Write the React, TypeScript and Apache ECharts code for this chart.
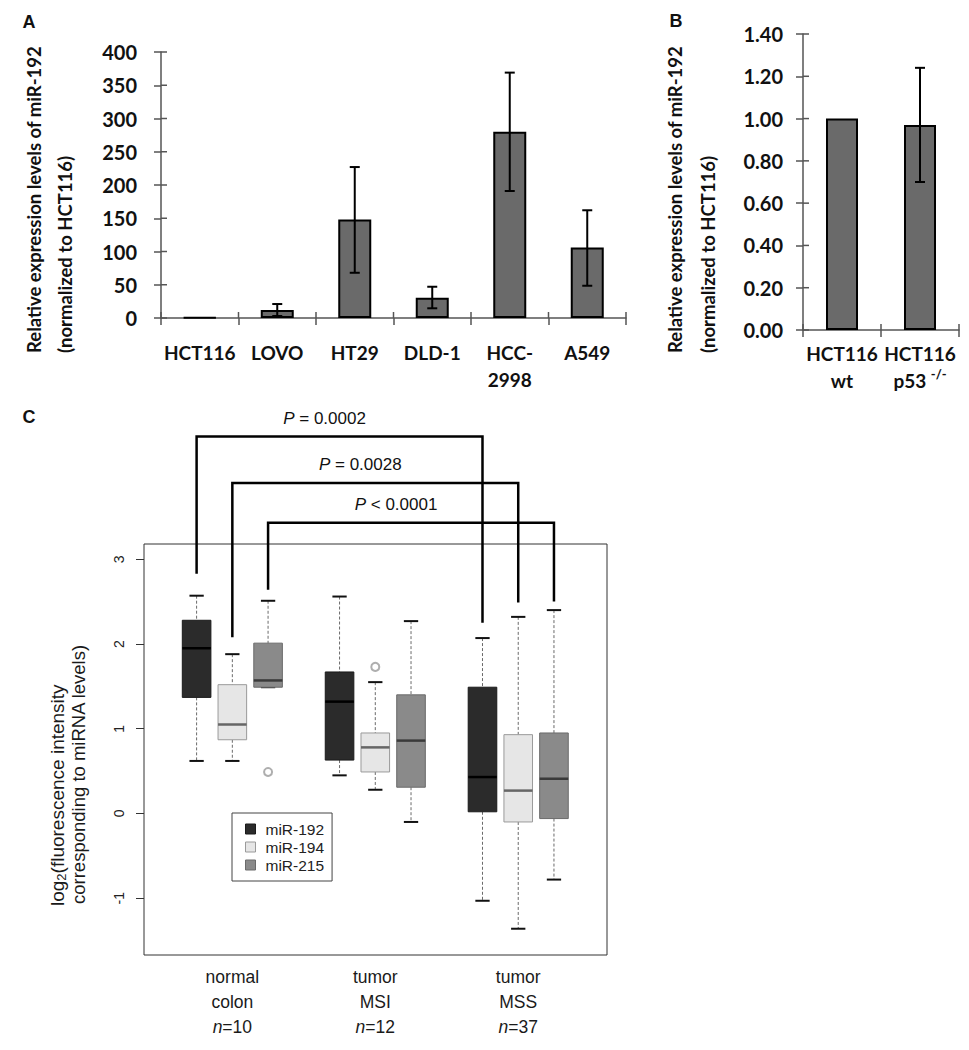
import React, { useEffect, useRef } from 'react';
import * as echarts from 'echarts';

// ---------- Panel A ----------
const cellLines = ['HCT116', 'LOVO', 'HT29', 'DLD-1', 'HCC-\n2998', 'A549'];
const expressionA = [1, 12, 148, 30.5, 280, 106];
const errLowA = [null, 3, 68, 14.6, 191, 48.5];
const errHighA = [null, 21, 227, 47, 369, 162];
const axisA = { min: 0, max: 400, interval: 50 };
const ticksA = [0, 50, 100, 150, 200, 250, 300, 350, 400];

// ---------- Panel B ----------
const linesB = ['HCT116\nwt', 'HCT116\np53 {sup|-/-}'];
const expressionB = [1.0, 0.97];
const errLowB = [null, 0.7];
const errHighB = [null, 1.24];
const axisB = { min: 0, max: 1.4, interval: 0.2 };
const ticksB = [0, 0.2, 0.4, 0.6, 0.8, 1.0, 1.2, 1.4];

// ---------- Panel C ----------
const groupsC = ['normal\ncolon', 'tumor\nMSI', 'tumor\nMSS'];
const groupN = [10, 12, 37];
const mirnas = ['miR-192', 'miR-194', 'miR-215'];
// [lower whisker, Q1, median, Q3, upper whisker] for normal colon, tumor MSI, tumor MSS
const statsMir192 = [
  [0.62, 1.37, 1.95, 2.28, 2.57],
  [0.45, 0.63, 1.32, 1.67, 2.56],
  [-1.03, 0.02, 0.43, 1.49, 2.07],
];
const statsMir194 = [
  [0.62, 0.87, 1.05, 1.52, 1.88],
  [0.28, 0.49, 0.78, 0.95, 1.55],
  [-1.36, -0.1, 0.27, 0.93, 2.32],
];
const statsMir215 = [
  [1.49, 1.49, 1.57, 2.01, 2.51],
  [-0.1, 0.31, 0.86, 1.4, 2.27],
  [-0.78, -0.06, 0.41, 0.95, 2.4],
];
const outliersMir194 = [null, 1.73, null];
const outliersMir215 = [0.49, null, null];
const yTicksC = [-1, 0, 1, 2, 3];
const pLabels = ['{i|P} = 0.0002', '{i|P} = 0.0028', '{i|P} < 0.0001'];
const bracketTop = [4.45, 3.9, 3.43];
const bracketLegLeft = [2.83, 2.08, 2.64];
const bracketLegRight = [2.25, 2.49, 2.5];

const offsets = [-0.25, 0, 0.25];
const fills = ['#2b2b2b', '#e6e6e6', '#8a8a8a'];
const strokes = ['#1a1a1a', '#9a9a9a', '#6a6a6a'];
const medians = ['#000000', '#666666', '#3a3a3a'];

const SANS = 'Liberation Sans, Arial, sans-serif';
const LATO = 'Lato, Open Sans, sans-serif';
const AXIS_COLOR = '#555';

function errorRender(params: any, api: any) {
  const i = api.value(0);
  const pHi = api.coord([i, api.value(2)]);
  const pLo = api.coord([i, api.value(1)]);
  const w = 5;
  const st = { stroke: '#000', lineWidth: 2 };
  return {
    type: 'group',
    children: [
      { type: 'line', shape: { x1: pHi[0], y1: pHi[1], x2: pLo[0], y2: pLo[1] }, style: st },
      { type: 'line', shape: { x1: pHi[0] - w, y1: pHi[1], x2: pHi[0] + w, y2: pHi[1] }, style: st },
      { type: 'line', shape: { x1: pLo[0] - w, y1: pLo[1], x2: pLo[0] + w, y2: pLo[1] }, style: st },
    ],
  };
}

// inner half of the crossing ticks (Excel-style "cross" tick marks)
function innerTicks(yTicks: number[], nCats: number) {
  return (params: any, api: any) => {
    const cs = params.coordSys;
    const st = { stroke: AXIS_COLOR, lineWidth: 1.5 };
    const children: any[] = [];
    yTicks.forEach((v) => {
      const y = api.coord([0, v])[1];
      children.push({ type: 'line', shape: { x1: cs.x, y1: y, x2: cs.x + 6, y2: y }, style: st });
    });
    const bw = cs.width / nCats;
    const yb = cs.y + cs.height;
    for (let i = 0; i <= nCats; i++) {
      const x = cs.x + i * bw;
      children.push({ type: 'line', shape: { x1: x, y1: yb - 6, x2: x, y2: yb }, style: st });
    }
    return { type: 'group', children };
  };
}

function boxRender(k: number) {
  return (params: any, api: any) => {
    const x = api.value(0);
    const vals = [1, 2, 3, 4, 5].map((d) => api.coord([x, api.value(d)])[1]);
    const [yLo, yQ1, yMed, yQ3, yHi] = vals;
    const cx = api.coord([x, 0])[0];
    const half = api.size([0.2, 0])[0] / 2;
    const cap = half / 2;
    const dash = { stroke: '#6a6a6a', lineWidth: 1, lineDash: [3, 2] };
    const capSt = { stroke: '#111', lineWidth: 2 };
    return {
      type: 'group',
      children: [
        { type: 'line', shape: { x1: cx, y1: yHi, x2: cx, y2: yQ3 }, style: dash },
        { type: 'line', shape: { x1: cx, y1: yQ1, x2: cx, y2: yLo }, style: dash },
        { type: 'line', shape: { x1: cx - cap, y1: yHi, x2: cx + cap, y2: yHi }, style: capSt },
        { type: 'line', shape: { x1: cx - cap, y1: yLo, x2: cx + cap, y2: yLo }, style: capSt },
        {
          type: 'rect',
          shape: { x: cx - half, y: yQ3, width: half * 2, height: yQ1 - yQ3 },
          style: { fill: fills[k], stroke: strokes[k], lineWidth: 1 },
        },
        {
          type: 'line',
          shape: { x1: cx - half, y1: yMed, x2: cx + half, y2: yMed },
          style: { stroke: medians[k], lineWidth: 2.5 },
        },
      ],
    };
  };
}

function bracketRender(params: any, api: any) {
  const x1 = api.value(0);
  const x2 = api.value(1);
  const top = api.value(2);
  const k = api.value(5);
  const pTL = api.coord([x1, top]);
  const pTR = api.coord([x2, top]);
  const pL = api.coord([x1, api.value(3)]);
  const pR = api.coord([x2, api.value(4)]);
  return {
    type: 'group',
    children: [
      {
        type: 'polyline',
        shape: { points: [pL, pTL, pTR, pR] },
        style: { stroke: '#000', lineWidth: 2.5, fill: 'none', lineJoin: 'miter' },
      },
      {
        type: 'text',
        x: (pTL[0] + pTR[0]) / 2 - 15,
        y: pTL[1] - 18,
        style: {
          text: pLabels[k],
          fontSize: 17,
          fontFamily: SANS,
          fill: '#111',
          align: 'center',
          verticalAlign: 'middle',
          rich: { i: { fontStyle: 'italic', fontSize: 17, fontFamily: SANS, fill: '#111' } },
        },
      },
    ],
  };
}

const boldLabel = {
  fontFamily: LATO,
  fontWeight: 'bold' as const,
  fontSize: 19,
  color: '#111',
};

function buildOption() {
  const errA = cellLines
    .map((_, i) => (errLowA[i] == null ? null : [i, errLowA[i], errHighA[i]]))
    .filter(Boolean);
  const errB = linesB
    .map((_, i) => (errLowB[i] == null ? null : [i, errLowB[i], errHighB[i]]))
    .filter(Boolean);
  const allStats = [statsMir192, statsMir194, statsMir215];
  const boxSeries = mirnas.map((name, k) => ({
    type: 'custom',
    name,
    xAxisIndex: 2,
    yAxisIndex: 2,
    z: 4,
    itemStyle: { color: fills[k], borderColor: strokes[k] },
    encode: { x: 0, y: [1, 2, 3, 4, 5] },
    renderItem: boxRender(k),
    data: allStats[k].map((s, g) => [g + 1 + offsets[k], ...s]),
  }));
  const outlierData: number[][] = [];
  [outliersMir194, outliersMir215].forEach((arr, j) => {
    const k = j + 1;
    arr.forEach((v, g) => {
      if (v != null) outlierData.push([g + 1 + offsets[k], v]);
    });
  });
  const bracketData = mirnas.map((_, k) => [
    1 + offsets[k],
    3 + offsets[k],
    bracketTop[k],
    bracketLegLeft[k],
    bracketLegRight[k],
    k,
  ]);

  const axisLineStyle = { color: AXIS_COLOR, width: 1.5 };
  const yTitle = (text: string, x: number) => ({
    type: 'text',
    x,
    y: 353,
    rotation: Math.PI / 2,
    style: { text, fontFamily: LATO, fontWeight: 'bold', fontSize: 18.5, fill: '#111', align: 'left', verticalAlign: 'middle' },
  });

  return {
    animation: false,
    backgroundColor: '#fff',
    textStyle: { fontFamily: SANS },
    grid: [
      { left: 161, top: 52, width: 465, height: 266 },
      { left: 803, top: 34, width: 156, height: 296 },
      {
        left: 144,
        top: 544,
        width: 463,
        height: 411,
        show: true,
        borderColor: '#333',
        borderWidth: 1,
        backgroundColor: 'transparent',
      },
    ],
    xAxis: [
      {
        type: 'category',
        gridIndex: 0,
        position: 'bottom',
        data: cellLines,
        axisLine: { lineStyle: axisLineStyle },
        axisTick: { show: true, interval: 0, length: 7, lineStyle: axisLineStyle },
        axisLabel: { ...boldLabel, interval: 0, lineHeight: 27, margin: 21 },
      },
      {
        type: 'category',
        gridIndex: 1,
        position: 'bottom',
        data: linesB,
        axisLine: { lineStyle: axisLineStyle },
        axisTick: { show: true, interval: 0, length: 7, lineStyle: axisLineStyle },
        axisLabel: {
          ...boldLabel,
          interval: 0,
          lineHeight: 27,
          margin: 10,
          rich: {
            sup: { fontFamily: LATO, fontWeight: 'bold', fontSize: 13, color: '#111', verticalAlign: 'top', lineHeight: 19 },
          },
        },
      },
      {
        type: 'value',
        gridIndex: 2,
        position: 'bottom',
        min: 0.382,
        max: 3.621,
        axisLine: { show: false },
        axisTick: { show: false },
        splitLine: { show: false },
        axisLabel: {
          customValues: [1, 2, 3],
          fontFamily: SANS,
          fontSize: 17.5,
          lineHeight: 25,
          margin: 9,
          color: '#1a1a1a',
          formatter: (v: number) => {
            const i = Math.round(v) - 1;
            return `${groupsC[i]}\n{i|n}=${groupN[i]}`;
          },
          rich: { i: { fontStyle: 'italic', fontFamily: SANS, fontSize: 17.5, lineHeight: 25, color: '#1a1a1a' } },
        },
      },
    ],
    yAxis: [
      {
        type: 'value',
        gridIndex: 0,
        position: 'left',
        ...axisA,
        axisLine: { show: true, lineStyle: axisLineStyle },
        axisTick: { show: true, length: 7, lineStyle: axisLineStyle },
        splitLine: { show: false },
        axisLabel: { ...boldLabel, fontSize: 20, margin: 24 },
      },
      {
        type: 'value',
        gridIndex: 1,
        position: 'left',
        ...axisB,
        axisLine: { show: true, lineStyle: axisLineStyle },
        axisTick: { show: true, length: 7, lineStyle: axisLineStyle },
        splitLine: { show: false },
        axisLabel: { ...boldLabel, fontSize: 20, margin: 20, formatter: (v: number) => v.toFixed(2) },
      },
      {
        type: 'value',
        gridIndex: 2,
        position: 'left',
        min: -1.67,
        max: 3.18,
        axisLine: { show: false },
        splitLine: { show: false },
        axisTick: { show: true, length: 8, customValues: yTicksC, lineStyle: { color: '#333', width: 1 } },
        axisLabel: {
          customValues: yTicksC,
          rotate: 90,
          margin: 18,
          fontSize: 14,
          fontFamily: SANS,
          color: '#222',
        },
      },
    ],
    legend: {
      data: mirnas.map((name, k) => ({
        name,
        itemStyle: { color: fills[k], borderColor: strokes[k], borderWidth: 1 },
      })),
      orient: 'vertical',
      left: 232,
      top: 813,
      padding: [8, 8, 8, 13],
      itemGap: 2,
      itemWidth: 10,
      itemHeight: 10,
      icon: 'rect',
      selectedMode: false,
      borderColor: '#444',
      borderWidth: 1,
      backgroundColor: '#fff',
      textStyle: { fontFamily: SANS, fontSize: 15.5, color: '#222', padding: [0, 0, 0, 5] },
    },
    graphic: [
      { type: 'text', x: 29, y: 22, style: { text: 'A', fontFamily: SANS, fontWeight: 'bold', fontSize: 18, fill: '#111', align: 'center', verticalAlign: 'middle' } },
      { type: 'text', x: 676, y: 21, style: { text: 'B', fontFamily: SANS, fontWeight: 'bold', fontSize: 18, fill: '#111', align: 'center', verticalAlign: 'middle' } },
      { type: 'text', x: 29, y: 417, style: { text: 'C', fontFamily: SANS, fontWeight: 'bold', fontSize: 18, fill: '#111', align: 'center', verticalAlign: 'middle' } },
      yTitle('Relative expression levels of miR-192', 34),
      yTitle('(normalized to HCT116)', 65),
      yTitle('Relative expression levels of miR-192', 675),
      yTitle('(normalized to HCT116)', 708),
      {
        type: 'text', x: 57, y: 906, rotation: Math.PI / 2,
        style: {
          text: 'log{sub|2}(fluorescence intensity', fontFamily: SANS, fontSize: 19, fill: '#1a1a1a', align: 'left', verticalAlign: 'middle', lineHeight: 22,
          rich: { sub: { fontFamily: SANS, fontSize: 13, lineHeight: 12, verticalAlign: 'bottom', fill: '#1a1a1a' } },
        },
      },
      { type: 'text', x: 78, y: 904, rotation: Math.PI / 2, style: { text: 'corresponding to miRNA levels)', fontFamily: SANS, fontSize: 18.5, fill: '#1a1a1a', align: 'left', verticalAlign: 'middle' } },
    ],
    series: [
      {
        type: 'bar',
        xAxisIndex: 0,
        yAxisIndex: 0,
        data: expressionA,
        barWidth: 33,
        itemStyle: { color: '#6a6a6a', borderColor: '#000', borderWidth: 2 },
      },
      { type: 'custom', xAxisIndex: 0, yAxisIndex: 0, z: 5, renderItem: errorRender, data: errA },
      { type: 'custom', xAxisIndex: 0, yAxisIndex: 0, z: 6, clip: false, silent: true, renderItem: innerTicks(ticksA, cellLines.length), data: [[0, 0]] },
      {
        type: 'bar',
        xAxisIndex: 1,
        yAxisIndex: 1,
        data: expressionB,
        barWidth: 32,
        itemStyle: { color: '#6a6a6a', borderColor: '#000', borderWidth: 2 },
      },
      { type: 'custom', xAxisIndex: 1, yAxisIndex: 1, z: 5, renderItem: errorRender, data: errB },
      { type: 'custom', xAxisIndex: 1, yAxisIndex: 1, z: 6, clip: false, silent: true, renderItem: innerTicks(ticksB, linesB.length), data: [[0, 0]] },
      ...boxSeries,
      {
        type: 'scatter',
        name: 'outliers',
        xAxisIndex: 2,
        yAxisIndex: 2,
        symbol: 'emptyCircle',
        symbolSize: 8,
        itemStyle: { color: '#9a9a9a', borderWidth: 1.5 },
        data: outlierData,
      },
      {
        type: 'custom',
        name: 'brackets',
        xAxisIndex: 2,
        yAxisIndex: 2,
        clip: false,
        z: 6,
        renderItem: bracketRender,
        data: bracketData,
      },
    ],
  };
}

export default function App() {
  const ref = useRef<HTMLDivElement>(null);
  useEffect(() => {
    if (!ref.current) return;
    const chart = echarts.init(ref.current, null, { renderer: 'svg' });
    chart.setOption(buildOption() as any);
    return () => chart.dispose();
  }, []);
  return (
    <div
      ref={ref}
      style={{ position: 'absolute', left: 0, top: 0, width: 969, height: 1050, background: '#fff' }}
    />
  );
}
